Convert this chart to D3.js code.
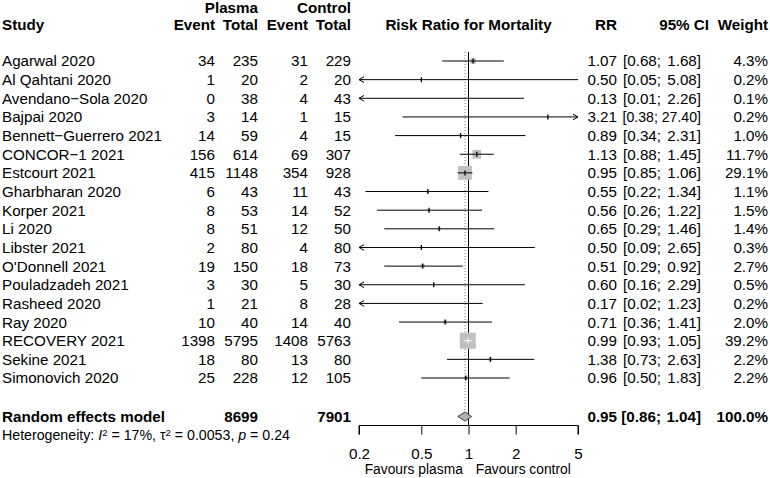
<!DOCTYPE html>
<html><head><meta charset="utf-8">
<script src="https://cdn.jsdelivr.net/npm/d3@7"></script>
<style>body{margin:0;background:#fff}svg{display:block;font-family:"Liberation Sans",Arial,Helvetica,sans-serif}</style>
</head><body><svg id="c" width="770" height="478"></svg>
<script>
const studies = ["Agarwal 2020","Al Qahtani 2020","Avendano\u2212Sola 2020","Bajpai 2020","Bennett\u2212Guerrero 2021","CONCOR\u22121 2021","Estcourt 2021","Gharbharan 2020","Korper 2021","Li 2020","Libster 2021","O'Donnell 2021","Pouladzadeh 2021","Rasheed 2020","Ray 2020","RECOVERY 2021","Sekine 2021","Simonovich 2020"];
const plasmaEvent = [34,1,0,3,14,156,415,6,8,8,2,19,3,1,10,1398,18,25];
const plasmaTotal = [235,20,38,14,59,614,1148,43,53,51,80,150,30,21,40,5795,80,228];
const controlEvent = [31,2,4,1,4,69,354,11,14,12,4,18,5,8,14,1408,13,12];
const controlTotal = [229,20,43,15,15,307,928,43,52,50,80,73,30,28,40,5763,80,105];
const rr = [1.07,0.50,0.13,3.21,0.89,1.13,0.95,0.55,0.56,0.65,0.50,0.51,0.60,0.17,0.71,0.99,1.38,0.96];
const ciLow = [0.68,0.05,0.01,0.38,0.34,0.88,0.85,0.22,0.26,0.29,0.09,0.29,0.16,0.02,0.36,0.93,0.73,0.50];
const ciHigh = [1.68,5.08,2.26,27.40,2.31,1.45,1.06,1.34,1.22,1.46,2.65,0.92,2.29,1.23,1.41,1.05,2.63,1.83];
const weight = [4.3,0.2,0.1,0.2,1.0,11.7,29.1,1.1,1.5,1.4,0.3,2.7,0.5,0.2,2.0,39.2,2.2,2.2];
const pooled = {label:"Random effects model", totalPlasma:8699, totalControl:7901, rr:0.95, lo:0.86, hi:1.04, weight:100.0};
const axisTicks = [0.2,0.5,1,2,5];

const svg = d3.select("#c");
const FS = 15.2;
const x = d3.scaleLog().domain([0.2,5]).range([359,578]);
const y = d3.scaleLinear().domain([0,17]).range([61,378]);
const yRE = 416.5, yHet = 435, yAxis = 425.5;

function txt(xp, yp, s, anchor, bold, size){
  return svg.append("text").attr("x",xp).attr("y",yp).attr("dy","0.36em")
    .attr("text-anchor",anchor||"start").attr("font-size",size||FS)
    .attr("font-weight",bold?"bold":"normal").attr("fill","#000").text(s);
}
// headers
txt(258,8,"Plasma","end",true);
txt(351,8,"Control","end",true);
txt(2,25,"Study","start",true);
txt(215,25,"Event","end",true);
txt(258,25,"Total","end",true);
txt(308,25,"Event","end",true);
txt(351,25,"Total","end",true);
txt(468.5,25,"Risk Ratio for Mortality","middle",true);
txt(617,25,"RR","end",true);
txt(709,25,"95% CI","end",true);
txt(768,25,"Weight","end",true);

const f2 = d3.format(".2f"), f1 = d3.format(".1f");
function ciText(yy, lo, hi, bold){
  const up = txt(701,yy,f2(hi)+"]","end",bold);
  const w = up.node().getComputedTextLength();
  if (701 - w - 4 >= 661) {
    txt(661,yy,"["+f2(lo)+";","end",bold);
  } else {
    up.remove();
    const t = txt(701,yy,"["+f2(lo)+"; "+f2(hi)+"]","end",bold);
    const full = t.node().getComputedTextLength();
    if (full > 78.5) t.attr("textLength",78.5).attr("lengthAdjust","spacingAndGlyphs");
  }
}
studies.forEach((s,i)=>{
  const yy = y(i);
  txt(2,yy,s);
  txt(215,yy,plasmaEvent[i],"end");
  txt(258,yy,plasmaTotal[i],"end");
  txt(308,yy,controlEvent[i],"end");
  txt(351,yy,controlTotal[i],"end");
  txt(617,yy,f2(rr[i]),"end");
  ciText(yy, ciLow[i], ciHigh[i], false);
  txt(768,yy,f1(weight[i])+"%","end");
});
// pooled row
txt(2,yRE,pooled.label,"start",true);
txt(258,yRE,pooled.totalPlasma,"end",true);
txt(351,yRE,pooled.totalControl,"end",true);
txt(617,yRE,f2(pooled.rr),"end",true);
ciText(yRE, pooled.lo, pooled.hi, true);
txt(768,yRE,f1(pooled.weight)+"%","end",true);

// heterogeneity
const het = svg.append("text").attr("x",2).attr("y",yHet).attr("dy","0.36em").attr("font-size",14.2).attr("fill","#000");
het.append("tspan").text("Heterogeneity: ");
het.append("tspan").attr("font-style","italic").text("I");
het.append("tspan").attr("font-size",9.5).attr("dy","-0.45em").text("2");
het.append("tspan").attr("dy","0.3em").text(" = 17%, \u03c4");
het.append("tspan").attr("font-size",9.5).attr("dy","-0.45em").text("2");
het.append("tspan").attr("dy","0.3em").text(" = 0.0053, ");
het.append("tspan").attr("font-style","italic").text("p");
het.append("tspan").text(" = 0.24");

// dotted pooled line
svg.append("line").attr("x1",x(pooled.rr)).attr("x2",x(pooled.rr)).attr("y1",52).attr("y2",yRE-5)
  .attr("stroke","#777").attr("stroke-width",1).attr("stroke-dasharray","1,2");
// reference line
svg.append("line").attr("x1",x(1)).attr("x2",x(1)).attr("y1",52).attr("y2",yAxis)
  .attr("stroke","#000").attr("stroke-width",1);

const [xmin,xmax] = x.domain();
const maxW = d3.max(weight);
const side = w => 16*Math.sqrt(w/maxW);
studies.forEach((s,i)=>{
  const yy = y(i);
  const lo = Math.max(ciLow[i],xmin), hi = Math.min(ciHigh[i],xmax);
  const sd = side(weight[i]);
  const cx = x(rr[i]);
  const inDomain = rr[i] >= xmin && rr[i] <= xmax;
  if (inDomain) svg.append("rect").attr("x",cx-sd/2).attr("y",yy-sd/2).attr("width",sd).attr("height",sd)
    .attr("fill","#c0c0c0");
  const inside = (x(ciLow[i]) >= cx-sd/2) && (x(ciHigh[i]) <= cx+sd/2);
  const col = inside ? "#fff" : "#000";
  svg.append("line").attr("x1",x(lo)).attr("x2",x(hi)).attr("y1",yy).attr("y2",yy).attr("stroke",col).attr("stroke-width",1);
  if (inDomain) svg.append("line").attr("x1",cx).attr("x2",cx).attr("y1",yy-2.5).attr("y2",yy+2.5).attr("stroke",col).attr("stroke-width",1.3);
  if (ciLow[i] < xmin){
    const ax = x(xmin);
    svg.append("path").attr("d",`M${ax+5},${yy-2.8}L${ax},${yy}L${ax+5},${yy+2.8}`).attr("fill","none").attr("stroke","#000");
  }
  if (ciHigh[i] > xmax*1.05){
    const ax = x(xmax);
    svg.append("path").attr("d",`M${ax-5},${yy-2.8}L${ax},${yy}L${ax-5},${yy+2.8}`).attr("fill","none").attr("stroke","#000");
  }
});
// diamond
const dh = 4.6;
svg.append("path").attr("d",`M${x(pooled.lo)-0.5},${yRE}L${x(pooled.rr)},${yRE-dh}L${x(pooled.hi)+0.5},${yRE}L${x(pooled.rr)},${yRE+dh}Z`)
  .attr("fill","#b0b0b0").attr("stroke","#333").attr("stroke-width",0.9);

// axis
const ax = svg.append("g").attr("transform",`translate(0,${yAxis})`)
  .call(d3.axisBottom(x).tickValues(axisTicks).tickFormat(d=>String(d)).tickSize(9).tickPadding(14));
ax.select(".domain").attr("d",`M${x(xmin)},9V0H${x(xmax)}V9`).attr("stroke","#000");
ax.selectAll(".tick line").attr("stroke","#000");
ax.selectAll(".tick text").attr("font-size",FS).attr("fill","#000").attr("font-family","Liberation Sans, Arial, sans-serif");
txt((x(xmin)+x(1))/2,469.5,"Favours plasma","middle",false,13.8);
txt((x(1)+x(xmax))/2,469.5,"Favours control","middle",false,13.8);
</script></body></html>
